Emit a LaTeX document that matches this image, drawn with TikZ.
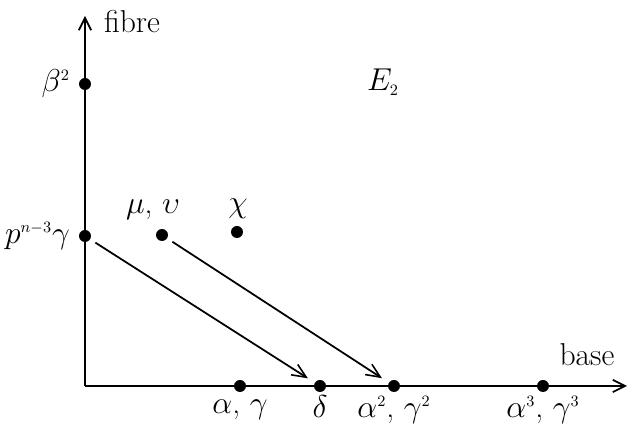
\documentclass[tikz,border=0pt]{standalone}
\usepackage{fix-cm}
\usetikzlibrary{arrows.meta}
\newcommand{\ssup}[1]{^{\scriptscriptstyle #1}}
\begin{document}
\begin{tikzpicture}[x=0.02cm,y=-0.02cm,
  dot/.style={circle,fill=black,inner sep=0pt,minimum size=0.24cm},
  lbl/.style={inner sep=1pt,font=\fontsize{18}{21}\selectfont},
  axis/.style={line width=1.3pt,-{Straight Barb[length=7pt,width=7pt,line width=1pt]}},
  arr/.style={line width=1pt,-{Straight Barb[length=8pt,width=7pt,line width=0.9pt]},shorten <=0.12cm,shorten >=0.16cm}]
\useasboundingbox (0,0) rectangle (630,425);
\coordinate (O) at (85,386);
\coordinate (Ytop) at (85,16);
\coordinate (Xend) at (627,386);
\draw[axis] (O) -- (Ytop);
\draw[axis] (O) -- (Xend);
\node[lbl] (fibre) at (132,22) {fibre};
\node[lbl] (base) at (587,355) {base};
\node[lbl] (E) at (383,82) {$E_{\scriptscriptstyle 2}$};
% dots
\node[dot] (b2) at (85,84) {};
\node[dot] (p) at (85,236) {};
\node[dot] (mu) at (162,235) {};
\node[dot] (chi) at (237,232) {};
\node[dot] (ag) at (240,386) {};
\node[dot] (d) at (320,386) {};
\node[dot] (ag2) at (394,386) {};
\node[dot] (ag3) at (543,386) {};
% labels
\node[lbl,anchor=east] (lb2) at (72,84) {$\beta\ssup{2}$};
\node[lbl,anchor=east] (lp) at (72,236) {$p\ssup{n-3}\gamma$};
\node[lbl] (lmu) at (153,210) {$\mu$, $\upsilon$};
\node[lbl] (lchi) at (238,209) {$\chi$};
\node[lbl] (lag) at (240,410) {$\alpha$, $\gamma$};
\node[lbl] (ld) at (320,407) {$\delta$};
\node[lbl] (lag2) at (394,410) {$\alpha\ssup{2}$, $\gamma\ssup{2}$};
\node[lbl] (lag3) at (543,410) {$\alpha\ssup{3}$, $\gamma\ssup{3}$};
% arrows
\draw[arr] (p) -- (d);
\draw[arr] (mu) -- (ag2);
\end{tikzpicture}
\end{document}
